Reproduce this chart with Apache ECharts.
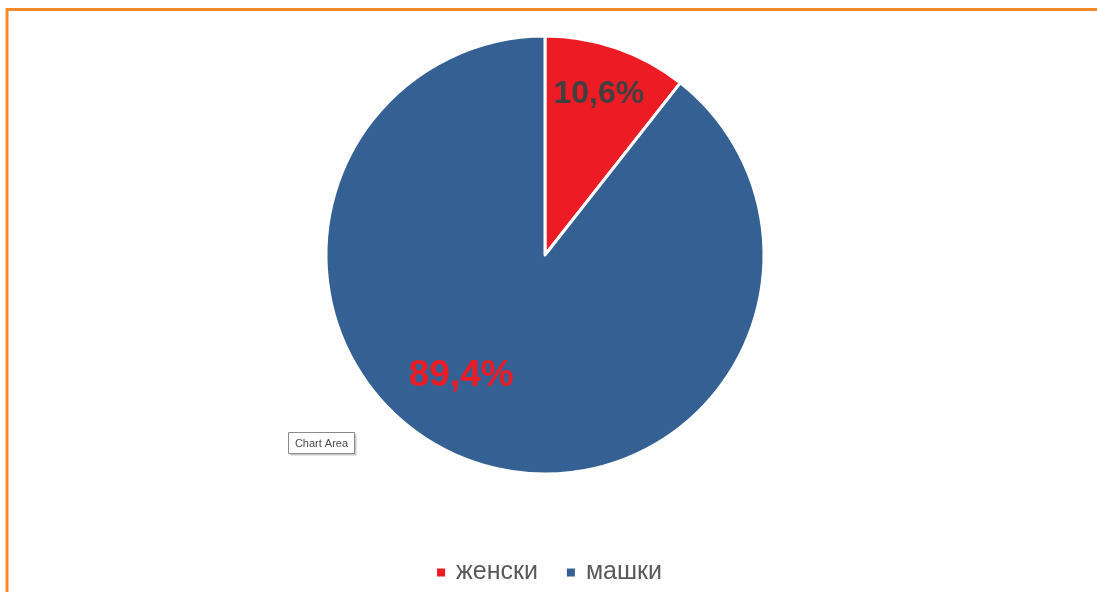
<!DOCTYPE html>
<html>
<head>
<meta charset="utf-8">
<script src="https://cdn.jsdelivr.net/npm/echarts@6/dist/echarts.min.js"></script>
<style>
  html, body { margin: 0; padding: 0; background: #fff; }
  #box { width: 1097px; height: 592px; }
</style>
</head>
<body>
<div id="box"></div>
<script>
// 数据
const categories = ["женски", "машки"];
const values = [10.6, 89.4];
const labelTexts = ["10,6%", "89,4%"];
const colors = ["#ED1C24", "#356093"];

const chart = echarts.init(document.getElementById("box"));

const option = {
  backgroundColor: "#fff",
  color: colors,
  legend: {
    data: categories,
    bottom: 2,
    left: "center",
    icon: "rect",
    itemWidth: 10,
    itemHeight: 10,
    itemGap: 27,
    textStyle: {
      fontFamily: "Liberation Sans",
      fontSize: 25,
      color: "#595959",
      padding: [0, 0, 0, 5],
    },
  },
  series: [
    {
      type: "pie",
      center: [545, 255],
      radius: 219,
      startAngle: 90,
      clockwise: true,
      silent: true,
      itemStyle: {
        borderColor: "#fff",
        borderWidth: 3,
      },
      label: {
        show: true,
        position: "inside",
        fontFamily: "Liberation Sans",
        fontWeight: "bold",
        formatter: (p) => labelTexts[p.dataIndex],
      },
      // 标签位置微调
      labelLayout: (p) => (p.dataIndex === 0 ? { dx: 17, dy: -55 } : { dx: -47, dy: 14 }),
      data: categories.map((name, i) => ({
        name: name,
        value: values[i],
        label:
          i === 0
            ? { color: "#404040", fontSize: 32 }
            : { color: "#ED1C24", fontSize: 37 },
      })),
    },
  ],
  graphic: [
    {
      type: "polyline",
      shape: { points: [[7, 600], [7, 9.5], [1100, 9.5]] },
      style: { stroke: "#F7892A", lineWidth: 3, fill: null },
    },
    {
      type: "group",
      left: 288,
      top: 432,
      children: [
        {
          type: "rect",
          shape: { x: 2, y: 2, width: 66, height: 21 },
          style: { fill: "#c8c8c8" },
        },
        {
          type: "rect",
          shape: { x: 0, y: 0, width: 66, height: 21 },
          style: { fill: "#fff", stroke: "#8a8a8a", lineWidth: 1 },
        },
        {
          type: "text",
          x: 33,
          y: 11,
          style: {
            text: "Chart Area",
            fontFamily: "Liberation Sans",
            fontSize: 11,
            fill: "#4a4a4a",
            align: "center",
            verticalAlign: "middle",
          },
        },
      ],
    },
  ],
};

chart.setOption(option);
</script>
</body>
</html>
